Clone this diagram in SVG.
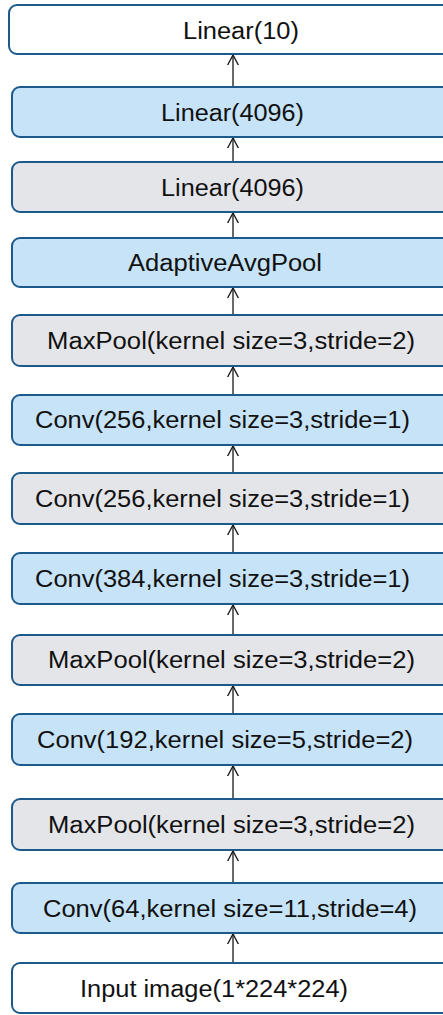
<svg xmlns="http://www.w3.org/2000/svg" width="443" height="1015" viewBox="0 0 443 1015">
  <defs>
    <style>
      .box { stroke: #1c5a8c; stroke-width: 2; }
      .blue { fill: #c6e3f7; }
      .gray { fill: #e4e5e9; }
      .white { fill: #ffffff; }
      .lbl { font-family: "Liberation Sans", Arial, Helvetica, sans-serif; font-size: 23.5px; fill: #111111; text-anchor: middle; }
      .edge { stroke: #1a1a1a; stroke-width: 1.3; fill: none; marker-end: url(#open); }
    </style>
    <marker id="open" markerUnits="userSpaceOnUse" markerWidth="20" markerHeight="20" viewBox="-10 -10 20 20" refX="0" refY="0" orient="auto">
      <path d="M-15,-8 L0,0 L-15,8" fill="none" stroke="#1a1a1a" stroke-width="1.3"/>
    </marker>
  </defs>
  <rect width="443" height="1015" fill="#ffffff"/>

  <g id="connectors">
    <line class="edge" x1="233" y1="87" x2="233" y2="55"/>
    <line class="edge" x1="233" y1="162" x2="233" y2="138"/>
    <line class="edge" x1="233" y1="238" x2="233" y2="213"/>
    <line class="edge" x1="233" y1="315" x2="233" y2="288"/>
    <line class="edge" x1="233" y1="395" x2="233" y2="367"/>
    <line class="edge" x1="233" y1="473" x2="233" y2="446"/>
    <line class="edge" x1="233" y1="553" x2="233" y2="525"/>
    <line class="edge" x1="233" y1="635" x2="233" y2="605"/>
    <line class="edge" x1="233" y1="714" x2="233" y2="686"/>
    <line class="edge" x1="233" y1="799" x2="233" y2="766"/>
    <line class="edge" x1="233" y1="883" x2="233" y2="851"/>
    <line class="edge" x1="233" y1="963" x2="233" y2="934"/>
  </g>

  <g id="linear10">
    <rect class="box white" x="9" y="5" width="445" height="49" rx="8"/>
    <text class="lbl" x="241" y="38.5" textLength="116" lengthAdjust="spacingAndGlyphs">Linear(10)</text>
  </g>
  <g id="linear4096a">
    <rect class="box blue" x="12" y="87" width="442" height="50" rx="8"/>
    <text class="lbl" x="232.5" y="120.5" textLength="143" lengthAdjust="spacingAndGlyphs">Linear(4096)</text>
  </g>
  <g id="linear4096b">
    <rect class="box gray" x="12" y="162" width="442" height="50" rx="8"/>
    <text class="lbl" x="232.5" y="195.5" textLength="143" lengthAdjust="spacingAndGlyphs">Linear(4096)</text>
  </g>
  <g id="avgpool">
    <rect class="box blue" x="12" y="238" width="442" height="49" rx="8"/>
    <text class="lbl" x="225" y="270.5" textLength="194" lengthAdjust="spacingAndGlyphs">AdaptiveAvgPool</text>
  </g>
  <g id="maxpool3">
    <rect class="box gray" x="12" y="315" width="442" height="51" rx="8"/>
    <text class="lbl" x="231" y="348.5" textLength="368" lengthAdjust="spacingAndGlyphs">MaxPool(kernel size=3,stride=2)</text>
  </g>
  <g id="conv5">
    <rect class="box blue" x="12" y="395" width="442" height="50" rx="8"/>
    <text class="lbl" x="222.5" y="427.5" textLength="375" lengthAdjust="spacingAndGlyphs">Conv(256,kernel size=3,stride=1)</text>
  </g>
  <g id="conv4">
    <rect class="box gray" x="12" y="473" width="442" height="51" rx="8"/>
    <text class="lbl" x="222.5" y="506.5" textLength="375" lengthAdjust="spacingAndGlyphs">Conv(256,kernel size=3,stride=1)</text>
  </g>
  <g id="conv3">
    <rect class="box blue" x="12" y="553" width="442" height="51" rx="8"/>
    <text class="lbl" x="222.5" y="586.5" textLength="375" lengthAdjust="spacingAndGlyphs">Conv(384,kernel size=3,stride=1)</text>
  </g>
  <g id="maxpool2">
    <rect class="box gray" x="12" y="635" width="442" height="50" rx="8"/>
    <text class="lbl" x="231.5" y="667.5" textLength="367" lengthAdjust="spacingAndGlyphs">MaxPool(kernel size=3,stride=2)</text>
  </g>
  <g id="conv2">
    <rect class="box blue" x="12" y="714" width="442" height="51" rx="8"/>
    <text class="lbl" x="225" y="747.5" textLength="376" lengthAdjust="spacingAndGlyphs">Conv(192,kernel size=5,stride=2)</text>
  </g>
  <g id="maxpool1">
    <rect class="box gray" x="12" y="799" width="442" height="51" rx="8"/>
    <text class="lbl" x="231.5" y="832.5" textLength="367" lengthAdjust="spacingAndGlyphs">MaxPool(kernel size=3,stride=2)</text>
  </g>
  <g id="conv1">
    <rect class="box blue" x="12" y="883" width="442" height="50" rx="8"/>
    <text class="lbl" x="230" y="916.5" textLength="374" lengthAdjust="spacingAndGlyphs">Conv(64,kernel size=11,stride=4)</text>
  </g>
  <g id="input">
    <rect class="box white" x="12" y="963" width="442" height="50" rx="8"/>
    <text class="lbl" x="214" y="996.5" textLength="268" lengthAdjust="spacingAndGlyphs">Input image(1*224*224)</text>
  </g>
</svg>
